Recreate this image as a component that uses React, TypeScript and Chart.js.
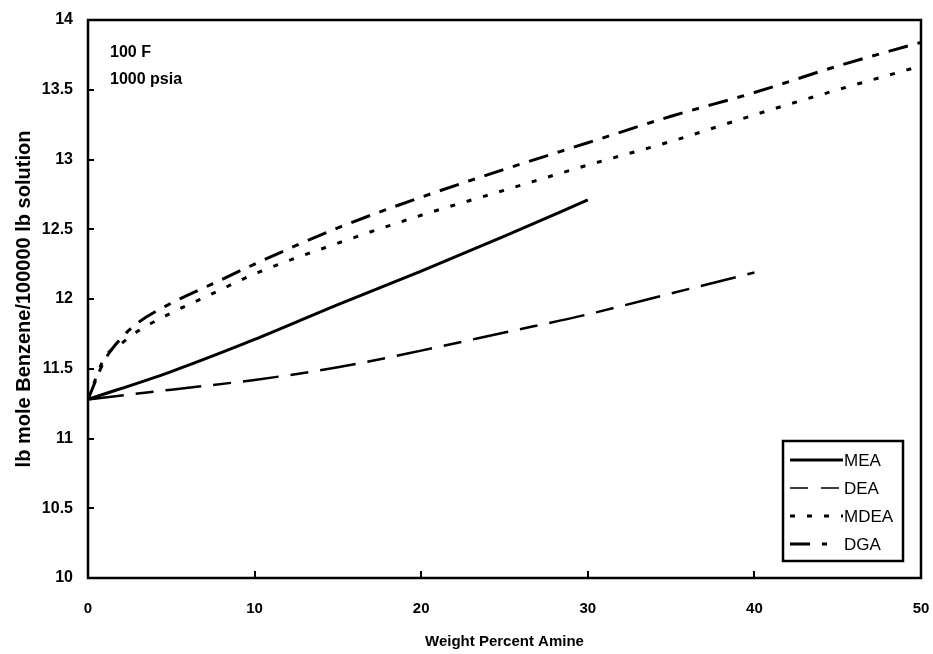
import React, { useEffect, useRef } from "react";
import { Chart, registerables } from "chart.js";

Chart.register(...registerables);

// ---- data ----
const MEA_X = [0, 5, 10, 15, 20, 25, 30];
const MEA_Y = [11.28, 11.48, 11.71, 11.96, 12.2, 12.45, 12.71];

const DEA_X = [0, 5, 10, 15, 20, 25, 30, 35, 40];
const DEA_Y = [11.28, 11.35, 11.42, 11.51, 11.63, 11.76, 11.89, 12.04, 12.19];

const MDEA_X = [0, 1, 2, 3, 5, 7.5, 10, 15, 20, 25, 30, 35, 40, 45, 50];
const MDEA_Y = [11.28, 11.58, 11.68, 11.77, 11.9, 12.04, 12.18, 12.4, 12.6, 12.78, 12.96, 13.13, 13.32, 13.5, 13.67];

const DGA_X = [0, 1, 2, 3, 5, 7.5, 10, 15, 20, 25, 30, 35, 40, 45, 50];
const DGA_Y = [11.28, 11.56, 11.72, 11.83, 11.97, 12.11, 12.25, 12.51, 12.73, 12.93, 13.12, 13.31, 13.48, 13.67, 13.84];

const SERIES_NAMES = ["MEA", "DEA", "MDEA", "DGA"];
const ANNOTATION_LINES = ["100 F", "1000 psia"];
const X_TITLE = "Weight Percent Amine";
const Y_TITLE = "lb mole Benzene/100000 lb solution";
const X_MIN = 0, X_MAX = 50, X_STEP = 10;
const Y_MIN = 10, Y_MAX = 14, Y_STEP = 0.5;

const toPoints = (xs: number[], ys: number[]) => xs.map((x, i) => ({ x, y: ys[i] }));

const STYLES = [
  { width: 3, dash: [] as number[], legendWidth: 3, legendDash: [] as number[] },
  { width: 2.5, dash: [36, 12, 18, 12], legendWidth: 1.5, legendDash: [18, 13] },
  { width: 3, dash: [5, 12], legendWidth: 3, legendDash: [5, 12] },
  { width: 3, dash: [20, 10, 7, 10], legendWidth: 3, legendDash: [20, 12, 5, 100] },
];

const framePlugin = {
  id: "frameAndExtras",
  afterDraw(chart: any) {
    const { ctx, chartArea } = chart;
    const { left, top, right, bottom } = chartArea;
    const xs = chart.scales.x;
    const ys = chart.scales.y;
    ctx.save();
    ctx.strokeStyle = "#000";
    ctx.lineWidth = 2.5;
    ctx.setLineDash([]);
    ctx.strokeRect(left, top, right - left, bottom - top);

    // inward ticks
    ctx.lineWidth = 2;
    ctx.beginPath();
    for (let v = X_MIN + X_STEP; v < X_MAX; v += X_STEP) {
      const px = Math.round(xs.getPixelForValue(v));
      ctx.moveTo(px, bottom);
      ctx.lineTo(px, bottom - 7);
    }
    for (let v = Y_MIN + Y_STEP; v < Y_MAX - 1e-9; v += Y_STEP) {
      const py = Math.round(ys.getPixelForValue(v));
      ctx.moveTo(left, py);
      ctx.lineTo(left + 6, py);
    }
    ctx.stroke();

    // annotation
    ctx.fillStyle = "#000";
    ctx.font = "bold 16px 'Liberation Sans', Arial, sans-serif";
    ctx.textBaseline = "middle";
    ctx.textAlign = "left";
    ANNOTATION_LINES.forEach((t, i) => {
      ctx.fillText(t, left + 22, top + 33 + i * 27);
    });

    // legend
    const bx = right - 138, by = bottom - 137, bw = 120, bh = 120;
    ctx.lineWidth = 2.5;
    ctx.strokeRect(bx, by, bw, bh);
    ctx.font = "17px 'Liberation Sans', Arial, sans-serif";
    SERIES_NAMES.forEach((name, i) => {
      const y = by + 19 + i * 28;
      const st = STYLES[i];
      ctx.save();
      ctx.lineWidth = st.legendWidth;
      ctx.setLineDash(st.legendDash);
      ctx.beginPath();
      ctx.moveTo(bx + 7, y);
      ctx.lineTo(bx + 60, y);
      ctx.stroke();
      ctx.restore();
      ctx.fillText(name, bx + 61, y + 1);
    });
    ctx.restore();
  },
};

export default function App() {
  const ref = useRef<HTMLCanvasElement | null>(null);
  useEffect(() => {
    if (!ref.current) return;
    const data = [
      toPoints(MEA_X, MEA_Y),
      toPoints(DEA_X, DEA_Y),
      toPoints(MDEA_X, MDEA_Y),
      toPoints(DGA_X, DGA_Y),
    ];
    const chart = new Chart(ref.current, {
      type: "line",
      data: {
        datasets: SERIES_NAMES.map((name, i) => ({
          label: name,
          data: data[i],
          borderColor: "#000",
          backgroundColor: "#000",
          borderWidth: STYLES[i].width,
          borderDash: STYLES[i].dash,
          pointRadius: 0,
          cubicInterpolationMode: "monotone" as const,
          fill: false,
        })),
      },
      options: {
        responsive: false,
        animation: false,
        layout: { padding: { left: 0, right: 12, top: 20, bottom: 0 } },
        plugins: { legend: { display: false }, tooltip: { enabled: false } },
        scales: {
          x: {
            type: "linear",
            min: X_MIN,
            max: X_MAX,
            grid: { display: false, drawTicks: false },
            border: { display: false },
            ticks: {
              stepSize: X_STEP,
              padding: 22,
              color: "#000",
              font: { family: "'Liberation Sans Narrow', 'Liberation Sans', Arial", size: 15, weight: "bold" },
            },
            title: {
              display: true,
              text: X_TITLE,
              color: "#000",
              padding: { top: 0, bottom: 3 },
              font: { family: "'Liberation Sans Narrow', 'Liberation Sans', Arial", size: 15, weight: "bold" },
            },
            afterFit: (s: any) => { s.height = 76; s.paddingLeft = 0; s.paddingRight = 0; },
          },
          y: {
            type: "linear",
            min: Y_MIN,
            max: Y_MAX,
            grid: { display: false, drawTicks: false },
            border: { display: false },
            ticks: {
              stepSize: Y_STEP,
              padding: 15,
              color: "#000",
              callback: (v: any) => String(v),
              font: { family: "'Liberation Sans', Arial", size: 16, weight: "bold" },
            },
            title: {
              display: true,
              text: Y_TITLE,
              color: "#000",
              padding: { top: 12, bottom: 0 },
              font: { family: "'Liberation Sans', Arial", size: 20, weight: "bold" },
            },
            afterFit: (s: any) => { s.width = 88; s.paddingTop = 0; s.paddingBottom = 0; },
          },
        },
      },
      plugins: [framePlugin],
    });
    return () => chart.destroy();
  }, []);
  return (
    <div style={{ position: "fixed", left: 0, top: 0, width: 933, height: 654, background: "#fff" }}>
      <canvas ref={ref} width={933} height={654} />
    </div>
  );
}
